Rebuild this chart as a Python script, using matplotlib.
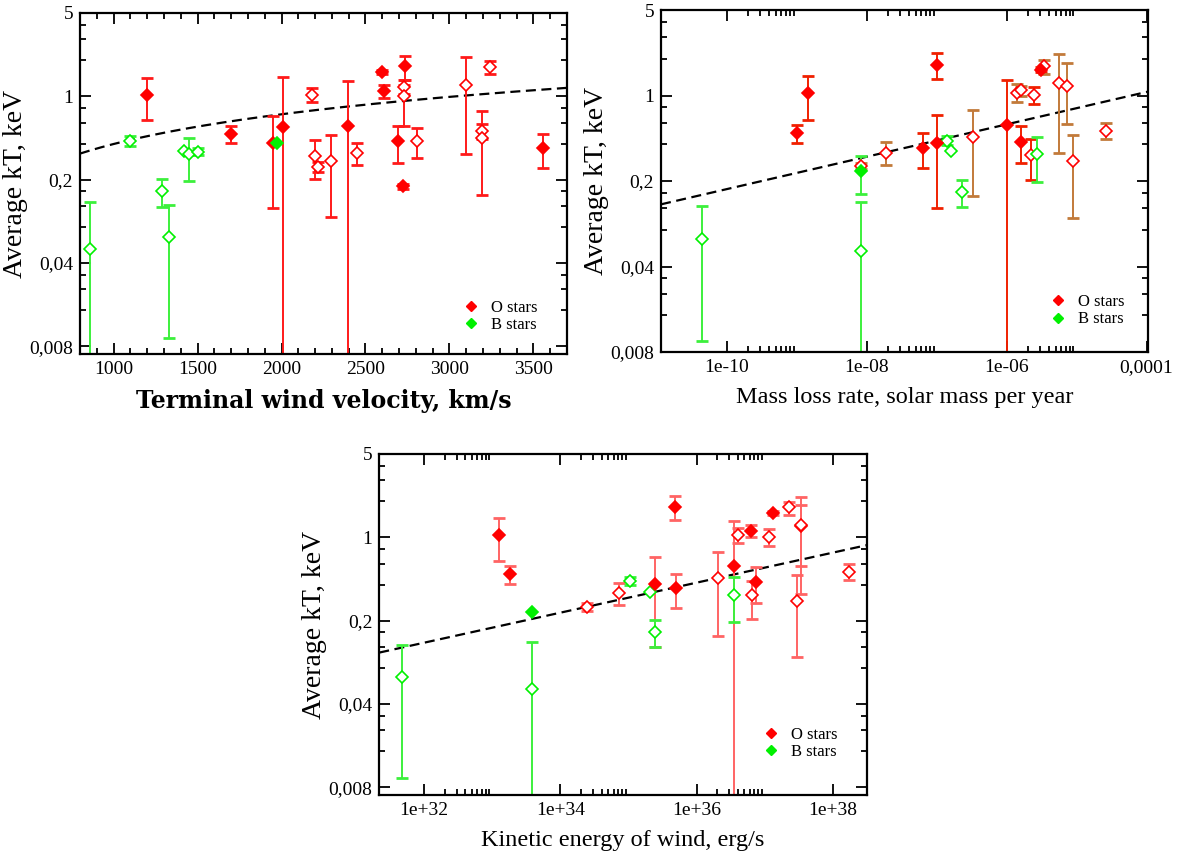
import numpy as np
import matplotlib.pyplot as plt
from matplotlib.ticker import FixedLocator, FixedFormatter, MultipleLocator, NullFormatter
from matplotlib.lines import Line2D

plt.rcParams['font.family'] = ['Liberation Serif', 'DejaVu Serif']

# kind: Of / Oo = O star (filled / open), Bf / Bo = B star (filled / open)
# None in lo/hi means no error bar

# terminal wind velocity, km/s
vinf = [857, 1100, 1200, 1290, 1330, 1422, 1448, 1500, 1700, 1950, 1976, 2010,
        2182, 2198, 2218, 2297, 2395, 2451, 2600, 2613, 2695, 2726, 2738, 2732,
        2732, 2805, 3100, 3193, 3193, 3243, 3559]
vinf_kt = [0.0527, 0.422, 1.03, 0.161, 0.066, 0.348, 0.326, 0.343, 0.486, 0.403, 0.405, 0.553,
           1.03, 0.318, 0.255, 0.287, 0.567, 0.335, 1.60, 1.108, 0.419, 0.176, 1.785, 1.198,
           1.0, 0.425, 1.236, 0.512, 0.45, 1.763, 0.369]
vinf_lo = [0.001, 0.383, 0.629, 0.119, 0.0094, None, 0.194, 0.32, 0.403, 0.116, None, 0.001,
           0.896, 0.204, 0.232, 0.098, 0.001, 0.267, 1.55, 0.975, 0.274, 0.168, 1.362, 1.05,
           0.567, 0.304, 0.331, 0.44, 0.148, 1.53, 0.252]
vinf_hi = [0.130, 0.462, 1.434, 0.201, 0.123, None, 0.450, 0.37, 0.564, 0.68, None, 1.453,
           1.18, 0.433, 0.282, 0.477, 1.345, 0.406, 1.66, 1.245, 0.56, 0.185, 2.18, 1.36,
           1.25, 0.542, 2.14, 0.59, 0.753, 1.966, 0.486]
vinf_kind = ['Bo', 'Bo', 'Of', 'Bo', 'Bo', 'Bo', 'Bo', 'Bo', 'Of', 'Of', 'Bf', 'Of',
             'Oo', 'Oo', 'Oo', 'Oo', 'Of', 'Oo', 'Of', 'Of', 'Of', 'Of', 'Of', 'Oo',
             'Oo', 'Oo', 'Oo', 'Oo', 'Oo', 'Oo', 'Of']

# mass loss rate, solar mass per year
mdot = [4.4e-11, 1.02e-9, 1.47e-9, 8.2e-9, 8.2e-9, 8.2e-9, 1.89e-8, 6.3e-8, 1.01e-7,
        1.01e-7, 1.39e-7, 1.6e-7, 2.3e-7, 3.3e-7, 1e-6, 1.58e-6, 1.39e-6, 1.62e-6,
        2.2e-6, 2.68e-6, 2.45e-6, 3.1e-6, 3.4e-6, 5.6e-6, 7.2e-6, 8.8e-6, 2.6e-5]
mdot_kt = [0.0678, 0.497, 1.045, 0.265, 0.24, 0.0539, 0.341, 0.375, 1.782,
           0.412, 0.425, 0.354, 0.164, 0.456, 0.575, 0.42, 1.045, 1.11,
           0.325, 0.331, 1.01, 1.62, 1.75, 1.262, 1.207, 0.29, 0.517]
mdot_lo = [0.0098, 0.409, 0.636, 0.25, 0.158, 0.001, 0.27, 0.257, 1.378,
           0.12, 0.393, None, 0.122, 0.151, 0.001, 0.279, 0.893, 1.0,
           0.206, 0.197, 0.854, 1.55, 1.5, 0.337, 0.582, 0.1, 0.439]
mdot_hi = [0.126, 0.579, 1.458, 0.28, 0.323, 0.134, 0.415, 0.497, 2.22,
           0.694, 0.469, None, 0.206, 0.763, 1.345, 0.565, 1.246, 1.2,
           0.439, 0.462, 1.17, 1.70, 1.96, 2.18, 1.84, 0.476, 0.594]
mdot_kind = ['Bo', 'Of', 'Of', 'Oo', 'Bf', 'Bo', 'Oo', 'Of', 'Of',
             'Of', 'Bo', 'Bo', 'Bo', 'Oo', 'Of', 'Of', 'Oo', 'Oo',
             'Oo', 'Bo', 'Oo', 'Of', 'Oo', 'Oo', 'Oo', 'Oo', 'Oo']
# source of the mass loss rate: 'a' or 'b'
mdot_src = ['a', 'a', 'a', 'b', 'a', 'a', 'b', 'a', 'a',
            'a', 'a', 'a', 'a', 'b', 'a', 'a', 'b', 'b',
            'a', 'a', 'a', 'a', 'b', 'b', 'b', 'b', 'b']

# kinetic energy of wind, erg/s
lkin = [4.8e31, 1.27e33, 1.82e33, 3.77e33, 3.77e33, 2.41e34, 7.2e34, 1.06e35, 2.04e35,
        2.47e35, 2.47e35, 4.73e35, 4.97e35, 2.08e36, 3.46e36, 3.46e36, 4.0e36, 6.28e36,
        7.43e36, 6.5e36, 1.16e37, 1.3e37, 2.23e37, 2.93e37, 3.39e37, 3.39e37, 1.69e38]
lkin_kt = [0.067, 1.046, 0.496, 0.236, 0.053, 0.259, 0.339, 0.43, 0.348,
           0.403, 0.161, 1.808, 0.373, 0.456, 0.575, 0.326, 1.046, 1.13,
           0.419, 0.326, 1.013, 1.61, 1.785, 0.29, 1.245, 1.26, 0.515]
lkin_lo = [0.0095, 0.637, 0.409, None, 0.001, 0.24, 0.271, 0.395, None,
           0.12, 0.12, 1.398, 0.254, 0.15, 0.001, 0.196, 0.902, 1.0,
           0.28, 0.205, 0.846, 1.55, 1.54, 0.1, 0.335, 0.575, 0.439]
lkin_hi = [0.125, 1.443, 0.575, None, 0.132, 0.28, 0.411, 0.465, None,
           0.689, 0.203, 2.22, 0.493, 0.758, 1.371, 0.462, 1.19, 1.26,
           0.567, 0.433, 1.167, 1.67, 1.99, 0.483, 2.166, 1.867, 0.594]
lkin_kind = ['Bo', 'Of', 'Of', 'Bf', 'Bo', 'Oo', 'Oo', 'Bo', 'Bo',
             'Of', 'Bo', 'Of', 'Of', 'Oo', 'Of', 'Bo', 'Oo', 'Of',
             'Of', 'Oo', 'Oo', 'Of', 'Oo', 'Oo', 'Oo', 'Oo', 'Oo']

# power-law fits: kT = norm * (x / pivot) ** slope
fit_vinf = (0.398, 1000.0, 0.829)
fit_mdot = (0.582, 1e-6, 0.1324)
fit_lkin = (0.312, 1e35, 0.126)

RED = '#ff0000'
GREEN = '#00f000'


def draw_panel(ax, x, kt, lo, hi, kind, xlim, fit, o_bar, src=None):
    x = np.array(x, dtype=float)
    kt = np.array(kt, dtype=float)
    lo = np.array(lo, dtype=float)
    hi = np.array(hi, dtype=float)

    # error bars first, one by one since colours differ
    for i in range(len(x)):
        if np.isnan(lo[i]):
            continue
        if kind[i][0] == 'B':
            c = '#3cf03c'
        elif src is not None and src[i] == 'b':
            c = '#c27a3a'
        else:
            c = o_bar
        ax.errorbar([x[i]], [kt[i]], yerr=[[kt[i] - lo[i]], [hi[i] - kt[i]]],
                    fmt='none', ecolor=c, elinewidth=1.4, capsize=4.3,
                    capthick=2.0, zorder=2)

    # fitted trend
    norm, pivot, slope = fit
    xx = np.linspace(xlim[0], xlim[1], 400) if ax.get_xscale() == 'linear' \
        else np.logspace(np.log10(xlim[0]), np.log10(xlim[1]), 400)
    ax.plot(xx, norm * (xx / pivot) ** slope, color='k', lw=1.6,
            ls=(0, (4.5, 2.5)), zorder=1.5)

    for k in ['Oo', 'Bo', 'Of', 'Bf']:
        m = np.array([kk == k for kk in kind])
        if not m.any():
            continue
        col = RED if k[0] == 'O' else GREEN
        face = col if k[1] == 'f' else 'white'
        ax.plot(x[m], kt[m], 'D', ms=6.2, mfc=face, mec=col, mew=1.2,
                ls='none', zorder=3)

    ax.set_xlim(xlim)


def style_axes(ax, ylim, leg_pos):
    ax.set_yscale('log')
    ax.set_ylim(ylim)
    ymaj = [0.008, 0.04, 0.2, 1, 5]
    ax.yaxis.set_major_locator(FixedLocator(ymaj))
    ax.yaxis.set_major_formatter(FixedFormatter(['0,008', '0,04', '0,2', '1', '5']))
    ax.yaxis.set_minor_locator(FixedLocator([m * k for m in ymaj[:-1] for k in (2, 3, 4)]))
    ax.yaxis.set_minor_formatter(NullFormatter())
    ax.tick_params(which='both', direction='in', top=True, right=True, width=1.3)
    ax.tick_params(which='major', length=8, labelsize=14, pad=5)
    ax.tick_params(which='minor', length=4.5)
    for s in ax.spines.values():
        s.set_linewidth(1.6)
    ax.set_ylabel('Average kT, keV', fontsize=20, labelpad=1)

    handles = [Line2D([], [], ls='none', marker='D', ms=5, mfc=RED, mec=RED),
               Line2D([], [], ls='none', marker='D', ms=5, mfc=GREEN, mec=GREEN)]
    ax.legend(handles, ['O stars', 'B stars'], loc='upper left',
              bbox_to_anchor=leg_pos, frameon=False, borderpad=0,
              handlelength=1.0, handletextpad=0.7, labelspacing=0.1,
              fontsize=12)


def log_xticks(ax, majors, labels):
    ax.set_xscale('log')
    ax.xaxis.set_major_locator(FixedLocator(majors))
    ax.xaxis.set_major_formatter(FixedFormatter(labels))
    ax.xaxis.set_minor_locator(FixedLocator([m * k for m in majors[:-1] for k in range(2, 10)]))
    ax.xaxis.set_minor_formatter(NullFormatter())


fig = plt.figure(figsize=(11.83, 8.59), dpi=100)

# wind velocity
ax1 = fig.add_axes([0.0676, 0.5879, 0.4117, 0.397])
style_axes(ax1, (0.0069, 5), (0.768, 0.184))
draw_panel(ax1, vinf, vinf_kt, vinf_lo, vinf_hi, vinf_kind, (800, 3700), fit_vinf, '#ff1a1a')
ax1.xaxis.set_major_locator(MultipleLocator(500))
ax1.xaxis.set_minor_locator(MultipleLocator(100))
ax1.set_xlabel('Terminal wind velocity, km/s', family='DejaVu Serif',
               fontweight='bold', fontsize=17, labelpad=8)

# mass loss rate
ax2 = fig.add_axes([0.5588, 0.5902, 0.4117, 0.398])
style_axes(ax2, (0.008, 5), (0.781, 0.195))
log_xticks(ax2, [1e-10, 1e-8, 1e-6, 1e-4], ['1e-10', '1e-08', '1e-06', '0,0001'])
draw_panel(ax2, mdot, mdot_kt, mdot_lo, mdot_hi, mdot_kind, (1.15e-11, 1.05e-4),
           fit_mdot, '#f02000', src=mdot_src)
ax2.set_xlabel('Mass loss rate, solar mass per year', fontsize=17.5, labelpad=8)

# wind kinetic energy
ax3 = fig.add_axes([0.3206, 0.0745, 0.412, 0.397])
style_axes(ax3, (0.0069, 5), (0.770, 0.225))
log_xticks(ax3, [1e32, 1e34, 1e36, 1e38], ['1e+32', '1e+34', '1e+36', '1e+38'])
draw_panel(ax3, lkin, lkin_kt, lkin_lo, lkin_hi, lkin_kind, (2.2e31, 3.1e38),
           fit_lkin, '#ff6464')
ax3.set_xlabel('Kinetic energy of wind, erg/s', fontsize=17.5, labelpad=8)

fig.savefig('out.png', dpi=100)
